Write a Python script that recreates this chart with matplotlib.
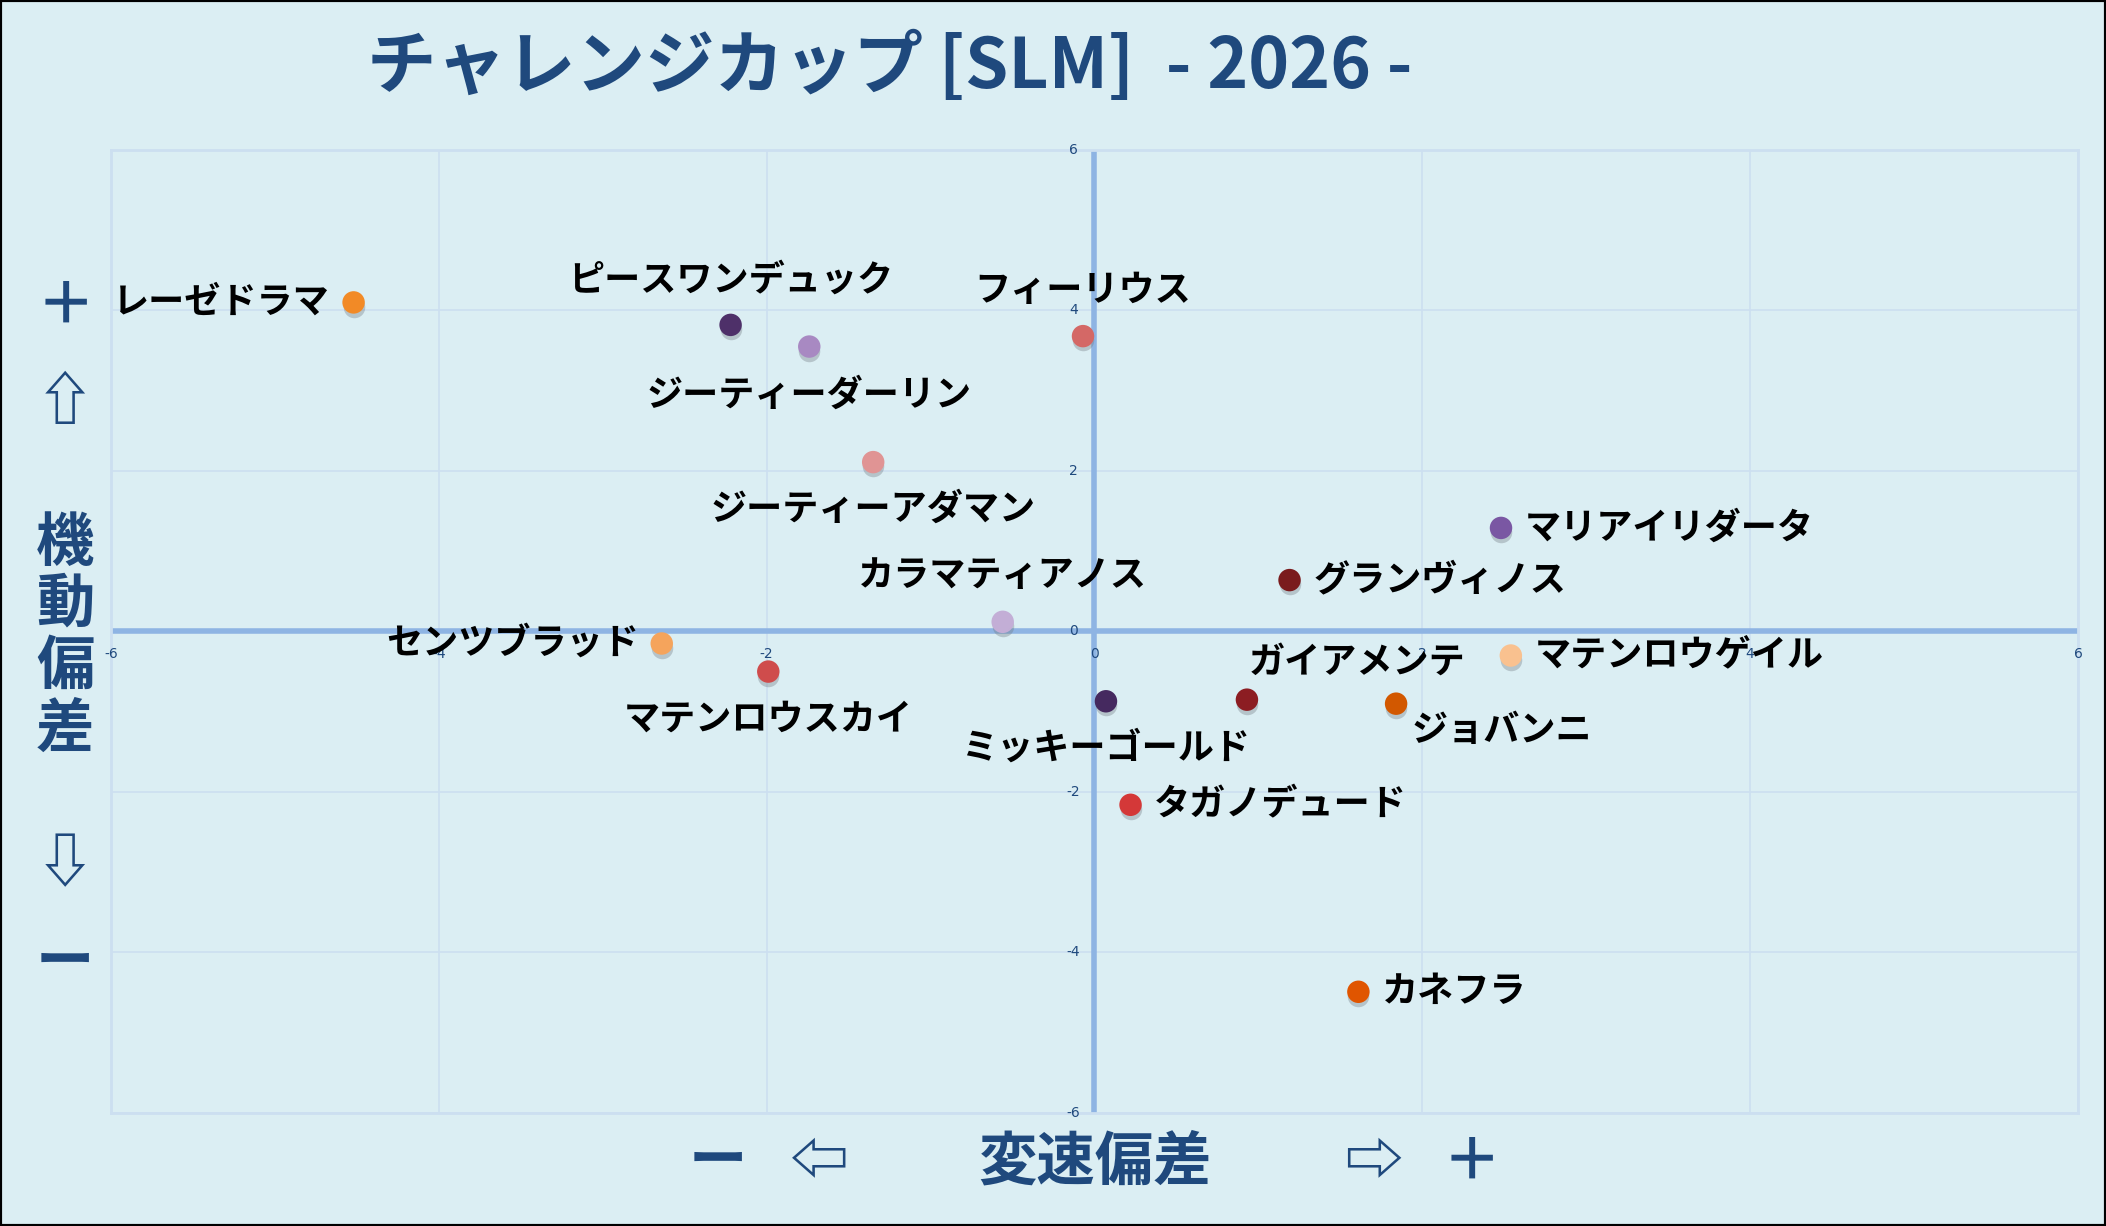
import matplotlib
matplotlib.use('Agg')
import matplotlib.pyplot as plt
from matplotlib.transforms import offset_copy

plt.rcParams['font.family'] = ['Noto Sans CJK JP', 'DejaVu Sans']

names = ['レーゼドラマ', 'ピースワンデュック', 'ジーティーダーリン', 'フィーリウス',
         'ジーティーアダマン', 'カラマティアノス', 'センツブラッド', 'マテンロウスカイ',
         'マリアイリダータ', 'グランヴィノス', 'マテンロウゲイル', 'ガイアメンテ',
         'ミッキーゴールド', 'ジョバンニ', 'タガノデュード', 'カネフラ']
speed_dev = [-4.52, -2.22, -1.74, -0.07, -1.35, -0.56, -2.64, -1.99,
             2.48, 1.19, 2.54, 0.93, 0.07, 1.84, 0.22, 1.61]
mobility_dev = [4.10, 3.82, 3.55, 3.68, 2.11, 0.12, -0.15, -0.50,
                1.29, 0.64, -0.30, -0.85, -0.87, -0.90, -2.16, -4.49]
colors = ['#F28A26', '#4E3069', '#A889C2', '#D46866', '#E09494', '#C3AED6',
          '#F5A45C', '#CF4C4C', '#7A57A3', '#7A1B1D', '#F9C18F', '#8C1D22',
          '#45295F', '#D25800', '#D43838', '#E05500']
ticks = [-6, -4, -2, 0, 2, 4, 6]

# label placement: (dx, dy) in points, horizontal alignment
label_pos = [(-17, 0, 'right'), (0, 32, 'center'), (0, -35, 'center'), (0, 33, 'center'),
             (0, -34, 'center'), (0, 33, 'center'), (-16, 0, 'right'), (0, -34, 'center'),
             (17, 0, 'left'), (17, 0, 'left'), (17, 0, 'left'), (79, 27, 'center'),
             (0, -34, 'center'), (76, -19, 'center'), (17, 0, 'left'), (17, 0, 'left')]

bg = '#DBEEF3'
navy = '#1F497D'
grid_c = '#CCDFF0'
axis_c = '#8EB4E3'

fig = plt.figure(figsize=(21.06, 12.26), dpi=100, facecolor=bg)
fig.patches.append(plt.Rectangle((0, 0), 1, 1, transform=fig.transFigure,
                                 fill=False, edgecolor='black', linewidth=3))
ax = fig.add_axes([0.0527, 0.0922, 0.934, 0.7855])
ax.set_facecolor(bg)
ax.set_xlim(-6, 6)
ax.set_ylim(-6, 6)
ax.set_xticks(ticks)
ax.set_yticks(ticks)
ax.grid(True, color=grid_c, linewidth=1.2)
ax.tick_params(length=0, labelbottom=False, labelleft=False)
for s in ax.spines.values():
    s.set_color(grid_c)
    s.set_linewidth(2)

ax.axhline(0, color=axis_c, linewidth=4, zorder=2)
ax.axvline(0, color=axis_c, linewidth=4, zorder=2)

for t in ticks:
    ax.annotate(str(t), (0, t), xytext=(-15, 0), textcoords='offset points',
                ha='center', va='center', fontsize=10, color=navy, family='DejaVu Sans')
    ax.annotate(str(t), (t, 0), xytext=(0, -16), textcoords='offset points',
                ha='center', va='center', fontsize=10, color=navy, family='DejaVu Sans')

# soft shadow under the markers
shadow_tr = offset_copy(ax.transData, fig=fig, x=0, y=-3, units='points')
ax.scatter(speed_dev, mobility_dev, s=240, color='#707880', alpha=0.35,
           linewidths=0, transform=shadow_tr, zorder=3)
ax.scatter(speed_dev, mobility_dev, s=215, c=colors, edgecolors=colors,
           linewidths=1.5, zorder=4)

for name, x, y, (dx, dy, ha) in zip(names, speed_dev, mobility_dev, label_pos):
    ax.annotate(name, (x, y), xytext=(dx, dy), textcoords='offset points',
                ha=ha, va='center', fontsize=26, fontweight='bold', color='black', zorder=5)

fig.text(0.4226, 0.945, 'チャレンジカップ [SLM]  - 2026 -', ha='center', va='center',
         fontsize=50, fontweight='bold', color=navy)

# y-axis caption
side = [('＋', 0.750), ('⇧', 0.671), ('機', 0.556), ('動', 0.507), ('偏', 0.456),
        ('差', 0.405), ('⇩', 0.294), ('ー', 0.215)]
for ch, yy in side:
    fig.text(0.031, yy, ch, ha='center', va='center', fontsize=42,
             fontweight='bold', color=navy)

# x-axis caption
bottom = [('ー', 0.341), ('⇦', 0.389), ('変速偏差', 0.520), ('⇨', 0.652), ('＋', 0.699)]
for txt, xx in bottom:
    fig.text(xx, 0.052, txt, ha='center', va='center', fontsize=42,
             fontweight='bold', color=navy)

fig.savefig('out.png', dpi=100, facecolor=bg)
